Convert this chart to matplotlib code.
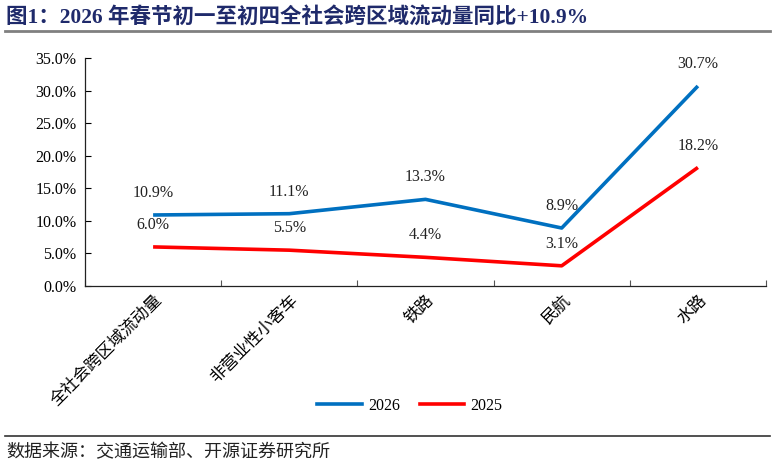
import matplotlib
matplotlib.use("Agg")
import matplotlib.pyplot as plt
from matplotlib.lines import Line2D

plt.rcParams['font.family'] = ['Liberation Serif', 'Noto Sans CJK SC', 'DejaVu Sans']

categories = ['全社会跨区域流动量', '非营业性小客车', '铁路', '民航', '水路']
v2026 = [10.9, 11.1, 13.3, 8.9, 30.7]
v2025 = [6.0, 5.5, 4.4, 3.1, 18.2]
yticks = [0, 5, 10, 15, 20, 25, 30, 35]
title = '图1：2026 年春节初一至初四全社会跨区域流动量同比+10.9%'
source = '数据来源：交通运输部、开源证券研究所'

fig = plt.figure(figsize=(7.74, 4.67), dpi=100)
W, H = 774, 467
ax = fig.add_axes([85 / W, 1 - 286 / H, (766 - 85) / W, (286 - 58) / H])

x = list(range(len(categories)))
blue = '#0070C0'
red = '#FF0000'
ax.plot(x, v2026, color=blue, lw=2.6, solid_capstyle='butt')
ax.plot(x, v2025, color=red, lw=2.6, solid_capstyle='butt')

for xi, v in zip(x, v2026):
    ax.annotate(f'{v:.1f}%', (xi, v), xytext=(0, 10), textcoords='offset points',
                ha='center', va='bottom', fontsize=11.5, color='#222222')
for xi, v in zip(x, v2025):
    ax.annotate(f'{v:.1f}%', (xi, v), xytext=(0, 10), textcoords='offset points',
                ha='center', va='bottom', fontsize=11.5, color='#222222')

ax.set_xlim(-0.5, len(categories) - 0.5)
ax.set_ylim(0, 35)
ax.set_yticks(yticks)
ax.set_yticklabels([f'{t:.1f}%' for t in yticks], fontsize=11.5)
ax.set_xticks([i - 0.5 for i in range(len(categories) + 1)])
ax.set_xticklabels([])
ax.set_xticks(x, minor=True)
ax.set_xticklabels(categories, minor=True, rotation=45, ha='right', va='top',
                   rotation_mode='anchor', fontsize=12,
                   family=['Noto Sans CJK SC', 'DejaVu Sans'])
ax.tick_params(axis='x', which='minor', length=0, pad=4)
ax.tick_params(axis='x', which='major', direction='in', length=4, width=0.8, color='#555555')
ax.tick_params(axis='y', direction='in', length=4, width=0.8, pad=6)
for s in ['top', 'right']:
    ax.spines[s].set_visible(False)
for s in ['left', 'bottom']:
    ax.spines[s].set_linewidth(0.9)
    ax.spines[s].set_color('#222222')

handles = [Line2D([], [], color=blue, lw=2.6), Line2D([], [], color=red, lw=2.6)]
fig.legend(handles, ['2026', '2025'], loc='center', bbox_to_anchor=(410 / W, 1 - 406 / H),
           ncol=2, frameon=False, fontsize=11.5, handlelength=2.8, columnspacing=1.2,
           handletextpad=0.4)

fig.text(6 / W, 1 - 17 / H, title, fontsize=15.5, fontweight='bold', color='#1F2A6B',
         ha='left', va='center', family=['Liberation Serif', 'Noto Sans CJK SC'])
fig.add_artist(Line2D([5 / W, 770 / W], [1 - 31 / H, 1 - 31 / H], color='#808080', lw=2))
fig.add_artist(Line2D([5 / W, 770 / W], [1 - 436 / H, 1 - 436 / H], color='#333333', lw=1.2))
fig.text(6 / W, 1 - 452 / H, source, fontsize=13, ha='left', va='center',
         family=['Noto Sans CJK SC', 'DejaVu Sans'], color='#222222')

fig.savefig('out.png', dpi=100)
